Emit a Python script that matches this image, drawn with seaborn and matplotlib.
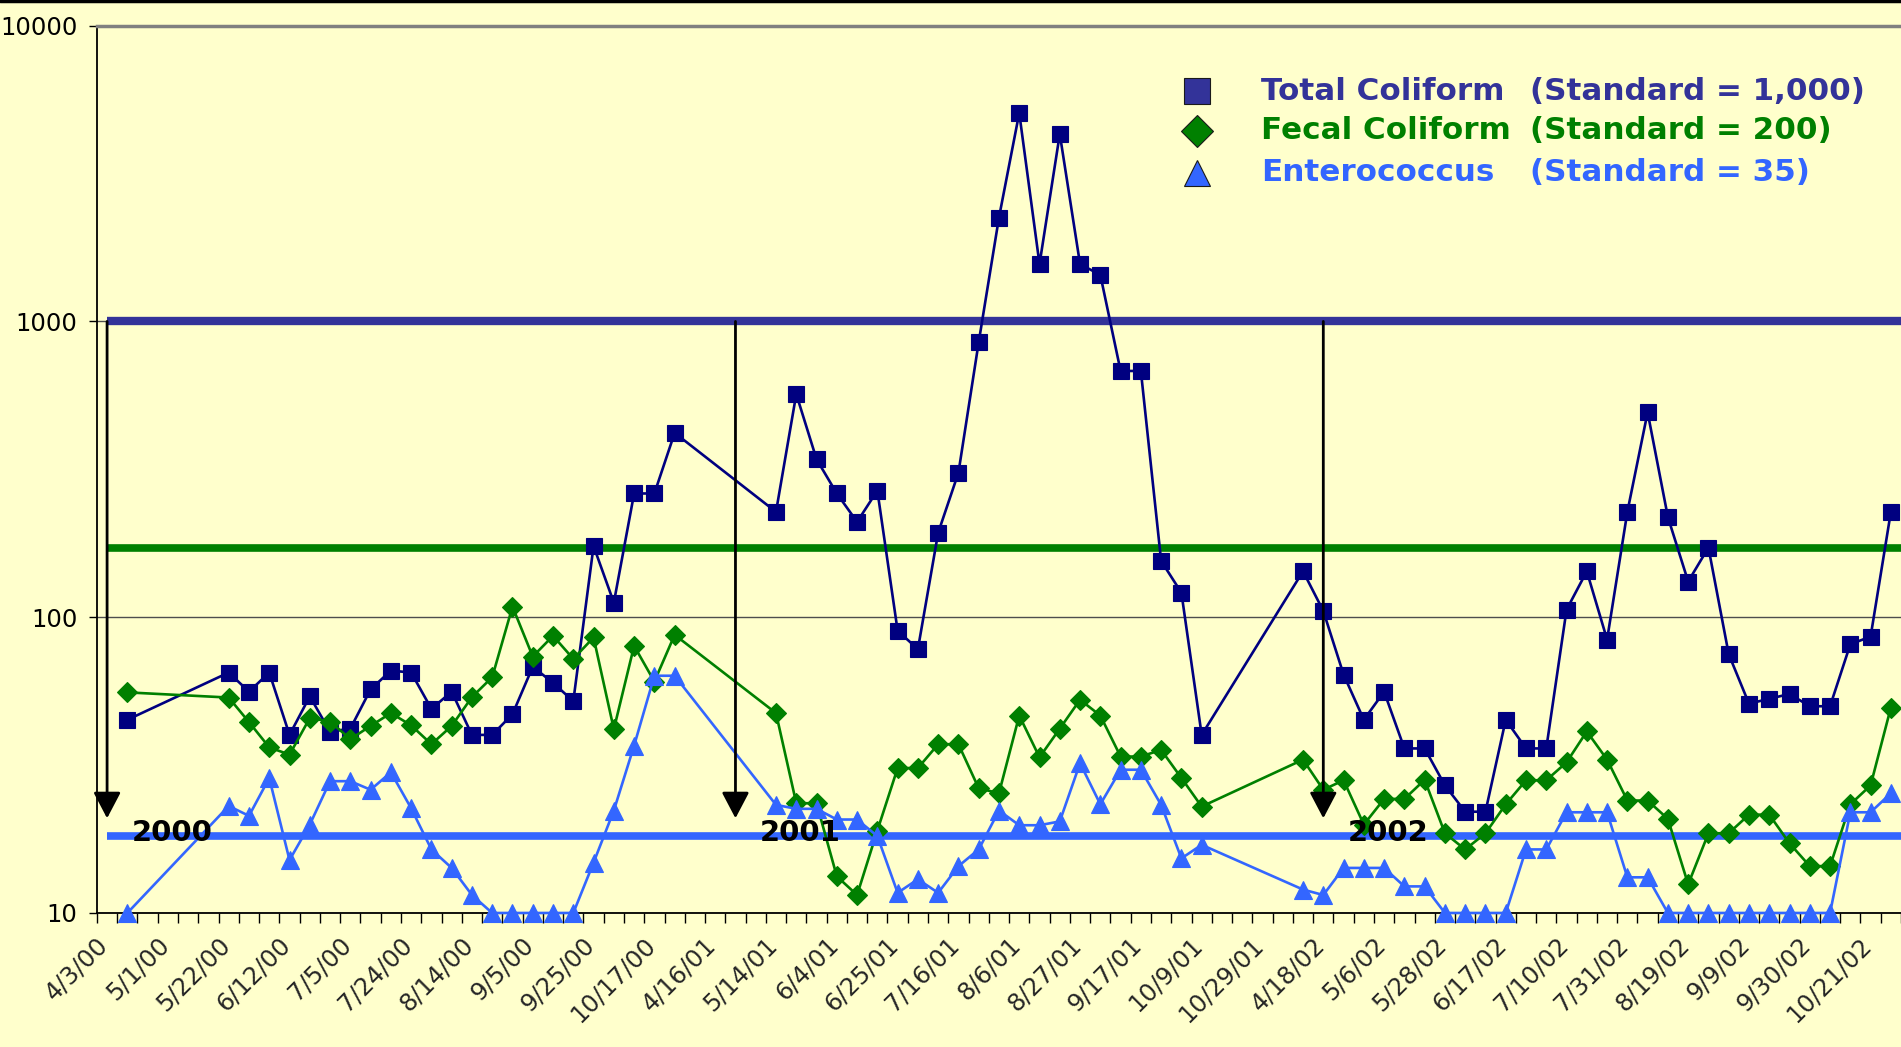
import numpy as np
import pandas as pd
import matplotlib
matplotlib.use("Agg")
import matplotlib.pyplot as plt
import matplotlib.transforms as mtransforms
from matplotlib.lines import Line2D
from matplotlib.ticker import NullLocator
import seaborn as sns

# ---- data ----
n_categories = 89
tick_labels = ["4/3/00", "5/1/00", "5/22/00", "6/12/00", "7/5/00", "7/24/00",
               "8/14/00", "9/5/00", "9/25/00", "10/17/00", "4/16/01", "5/14/01",
               "6/4/01", "6/25/01", "7/16/01", "8/6/01", "8/27/01", "9/17/01",
               "10/9/01", "10/29/01", "4/18/02", "5/6/02", "5/28/02", "6/17/02",
               "7/10/02", "7/31/02", "8/19/02", "9/9/02", "9/30/02", "10/21/02"]

# category slot of every sample
sample_pos = [1,
              6, 7, 8, 9, 10, 11, 12, 13, 14, 15, 16, 17, 18, 19, 20, 21, 22, 23, 24, 25, 26, 27, 28,
              33, 34, 35, 36, 37, 38, 39, 40, 41, 42, 43, 44, 45, 46, 47, 48, 49, 50, 51, 52, 53, 54,
              59, 60, 61, 62, 63, 64, 65, 66, 67, 68, 69, 70, 71, 72, 73, 74, 75, 76, 77, 78, 79, 80,
              81, 82, 83, 84, 85, 86, 87, 88]

total_coliform = [45,
                  65, 56, 65, 40, 54, 41, 42, 57, 66, 65, 49, 56, 40, 40, 47, 68, 60, 52, 174, 112, 262, 262, 420,
                  227, 568, 342, 262, 210, 268, 90, 78, 193, 308, 851, 2245, 5065, 1562, 4301, 1562, 1437, 680, 680, 155, 121, 40,
                  143, 105, 64, 45, 56, 36, 36, 27, 22, 22, 45, 36, 36, 106, 143, 84, 227, 493, 218, 132, 172, 75,
                  51, 53, 55, 50, 50, 81, 86, 227]

fecal_coliform = [55.7,
                  53.5, 44.2, 36.3, 34.3, 45.6, 44.4, 38.7, 42.9, 47.4, 43.1, 37.2, 42.9, 53.7, 62.7, 108.6, 73.6, 86.5, 72.3, 85.4, 41.8, 80.0, 60.6, 87.2,
                  47.4, 23.5, 23.5, 13.3, 11.5, 19.0, 30.9, 30.9, 37.2, 37.2, 26.4, 25.4, 46.5, 33.6, 42.0, 52.6, 46.5, 33.8, 33.8, 35.6, 28.6, 22.9,
                  33.0, 26.1, 28.1, 19.9, 24.3, 24.3, 28.2, 18.6, 16.4, 18.6, 23.3, 28.1, 28.1, 32.3, 41.1, 33.0, 24.0, 24.0, 20.8, 12.5, 18.6, 18.6,
                  21.5, 21.5, 17.2, 14.4, 14.4, 23.3, 27.0, 49.5]

enterococcus = [10,
                23.0, 21.3, 28.6, 15.1, 19.9, 27.9, 27.9, 26.1, 29.9, 22.6, 16.4, 14.2, 11.5, 10, 10, 10, 10, 10, 14.8, 22.2, 36.8, 63.4, 63.4,
                23.2, 22.5, 22.5, 20.7, 20.7, 18.2, 11.7, 13.0, 11.7, 14.4, 16.4, 22.2, 19.8, 19.8, 20.4, 32.1, 23.3, 30.5, 30.5, 23.2, 15.3, 17.0,
                12.0, 11.5, 14.2, 14.2, 14.2, 12.3, 12.3, 10, 10, 10, 10, 16.4, 16.4, 21.9, 21.9, 21.9, 13.2, 13.2, 10, 10, 10, 10,
                10, 10, 10, 10, 10, 21.9, 21.9, 25.4]

series_names = ["Total Coliform", "Fecal Coliform", "Enterococcus"]
standard_texts = ["(Standard = 1,000)", "(Standard = 200)", "(Standard = 35)"]
# where the standard bars are drawn on the chart
standard_levels = [1000, 172, 18.2]

year_labels = ["2000", "2001", "2002"]
year_pos = [0, 31, 60]

# ---- styling ----
bg = "#FFFFCC"
line_colors = ["#000080", "#008000", "#3366FF"]
legend_colors = ["#333399", "#008000", "#3366FF"]
markers = ["s", "D", "^"]
marker_sizes = [11.5, 10, 13]

sns.set_style("ticks")
plt.rcParams["font.family"] = ["DejaVu Sans"]

fig = plt.figure(figsize=(19.01, 10.47), dpi=100, facecolor=bg)
ax = fig.add_axes([0.051, 0.128, 0.949, 0.8475])
ax.set_facecolor(bg)

df = pd.DataFrame({"pos": sample_pos, "total": total_coliform,
                   "fecal": fecal_coliform, "entero": enterococcus})

# standard bars
ax.hlines(standard_levels, xmin=0, xmax=n_categories - 0.5,
          colors=legend_colors, linewidths=[6, 5.5, 5.5], zorder=2)

for col, c, m, ms, z in zip(["total", "fecal", "entero"], line_colors, markers, marker_sizes, [4, 5, 6]):
    sns.lineplot(data=df, x="pos", y=col, ax=ax, color=c, linewidth=1.9,
                 marker=m, markersize=ms, markeredgecolor=c, markeredgewidth=0.8,
                 clip_on=False, zorder=z, legend=False)

ax.set_yscale("log")
ax.set_ylim(10, 10000)
ax.set_xlim(-0.5, n_categories - 0.5)
ax.set_xlabel("")
ax.set_ylabel("")

# year arrows
for lbl, p in zip(year_labels, year_pos):
    ax.annotate("", xy=(p, 20.9), xytext=(p, 1000),
                arrowprops=dict(arrowstyle="-|>,head_width=0.42,head_length=0.8",
                                color="black", lw=2, mutation_scale=20,
                                shrinkA=0, shrinkB=0), zorder=8)
    ax.text(p + 1.2, 18.6, lbl, fontsize=21, fontweight="bold", color="black",
            ha="left", va="center", zorder=9)

# axes look
ax.set_yticks([10, 100, 1000, 10000])
ax.set_yticklabels(["10", "100", "1000", "10000"], fontsize=17.5)
ax.yaxis.set_minor_locator(NullLocator())
ax.tick_params(axis="y", length=6, width=1, pad=8, colors="black")
ax.yaxis.grid(True, color="#4d4d4d", linewidth=1)
ax.xaxis.grid(False)

ax.set_xticks(np.arange(0, n_categories, 3))
ax.set_xticklabels(tick_labels, rotation=45, ha="right", va="top",
                   rotation_mode="anchor", fontsize=17.5)
ax.set_xticks(np.arange(n_categories + 1) - 0.5, minor=True)
ax.tick_params(axis="x", which="major", length=0, pad=14)
ax.tick_params(axis="x", which="minor", length=7, width=1, color="black")
shift = mtransforms.ScaledTranslation(-8 / 72, 0, fig.dpi_scale_trans)
for t in ax.get_xticklabels():
    t.set_transform(t.get_transform() + shift)

for s in ["left", "bottom"]:
    ax.spines[s].set_color("black")
    ax.spines[s].set_linewidth(1.3)
ax.spines["top"].set_color("#808080")
ax.spines["top"].set_linewidth(2.5)
ax.spines["right"].set_visible(False)

# legend drawn by hand
rows_y = [0.913, 0.875, 0.835]
for name, std, c, m, y in zip(series_names, standard_texts, legend_colors, markers, rows_y):
    fig.add_artist(Line2D([0.6297], [y], marker=m, markersize=19 if m != "D" else 16,
                          markerfacecolor=c, markeredgecolor="#1a1a1a",
                          markeredgewidth=0.8, linestyle="none",
                          transform=fig.transFigure))
    fig.text(0.6633, y, name, color=c, fontsize=22.3, fontweight="bold", va="center", ha="left")
    fig.text(0.8048, y, std, color=c, fontsize=22.3, fontweight="bold", va="center", ha="left")

# chart border at top
fig.add_artist(Line2D([0, 1], [0.999, 0.999], color="black", lw=2.5, transform=fig.transFigure))

fig.savefig("out.png", dpi=100, facecolor=bg)
